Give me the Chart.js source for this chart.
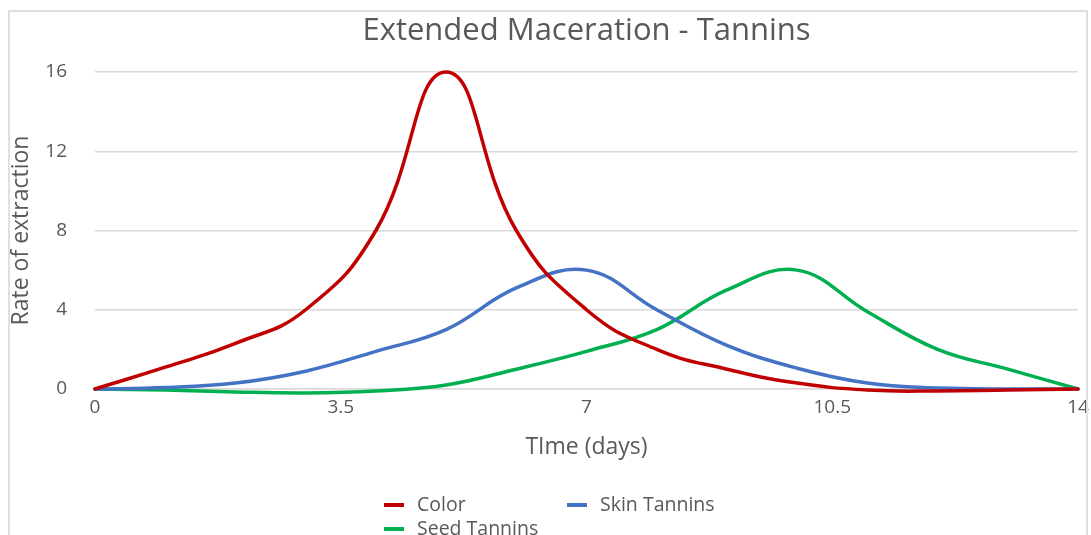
<!DOCTYPE html>
<html>
<head>
<meta charset="utf-8">
<script src="https://cdn.jsdelivr.net/npm/chart.js@4.4.1/dist/chart.umd.min.js"></script>
<style>
  html, body { margin: 0; padding: 0; background: #fff; overflow: hidden; }
  .wrap { position: relative; width: 1091px; height: 535px; }
  .frame { position: absolute; left: 8px; top: 10px; width: 1080px; height: 560px;
           border: 2px solid #e0e0e0; box-sizing: border-box; pointer-events: none; }
  .legend { position: absolute; left: 384px; top: 492px; width: 380px;
            font-family: "Open Sans", sans-serif; font-size: 19.5px; color: #595959; }
  .legend .item { position: absolute; white-space: nowrap; line-height: 24px; }
  .legend .mark { display: inline-block; width: 20px; height: 4px; vertical-align: middle;
                  margin-right: 13px; position: relative; top: -1px; }
</style>
</head>
<body>
<div class="wrap">
  <canvas id="chart"></canvas>
  <div class="frame"></div>
  <div class="legend" id="legend"></div>
</div>
<script>
// values (days 0..14)
const days = [0, 1, 2, 3, 4, 5, 6, 7, 8, 9, 10, 11, 12, 13, 14];
const colorValues = [0, 1.1, 2.3, 4, 8, 16, 8, 4, 2, 1, 0.3, -0.05, -0.1, -0.05, 0];
const skinValues = [0, 0.07, 0.3, 0.9, 1.9, 3, 5.1, 6, 4, 2.2, 1.05, 0.3, 0.05, 0, 0];
const seedValues = [0, -0.05, -0.15, -0.2, -0.1, 0.2, 1, 1.9, 3, 5, 6, 3.9, 2, 1, 0];
const seriesNames = ['Color', 'Skin Tannins', 'Seed Tannins'];
const xTicks = [0, 3.5, 7, 10.5, 14];
const yTicks = [0, 4, 8, 12, 16];

const FONT = '"Open Sans", sans-serif';
const textColor = '#595959';
const gridColor = '#d9d9d9';

function toPoints(values) {
  return values.map((v, i) => ({ x: days[i], y: v }));
}

function lineDataset(label, values, color, tension) {
  return {
    label: label,
    data: toPoints(values),
    borderColor: color,
    backgroundColor: color,
    borderWidth: 3.5,
    borderCapStyle: 'round',
    pointRadius: 0,
    tension: tension,
    clip: false,
    fill: false
  };
}

// Excel centres the title over the plot area, not the whole canvas
const plotTitle = {
  id: 'plotTitle',
  afterDraw(chart, args, opts) {
    const { ctx, chartArea } = chart;
    ctx.save();
    ctx.font = opts.size + 'px ' + FONT;
    ctx.fillStyle = textColor;
    ctx.textAlign = 'center';
    ctx.textBaseline = 'middle';
    ctx.fillText(opts.text, (chartArea.left + chartArea.right) / 2, opts.y);
    ctx.restore();
  }
};

const ctx = document.getElementById('chart').getContext('2d');
const chart = new Chart(ctx, {
  type: 'line',
  data: {
    datasets: [
      lineDataset(seriesNames[0], colorValues, '#c00000', 0.46),
      lineDataset(seriesNames[1], skinValues, '#4472c4', 0.4),
      lineDataset(seriesNames[2], seedValues, '#00b050', 0.4)
    ]
  },
  plugins: [plotTitle],
  options: {
    responsive: true,
    maintainAspectRatio: false,
    animation: false,
    layout: {
      padding: { left: 8, right: 13, top: 72, bottom: 66 }
    },
    plugins: {
      legend: { display: false },
      tooltip: { enabled: false },
      plotTitle: { text: 'Extended Maceration - Tannins', size: 31, y: 31 }
    },
    scales: {
      x: {
        type: 'linear',
        min: 0,
        max: 14,
        afterBuildTicks: function(scale) {
          scale.ticks = xTicks.map(v => ({ value: v }));
        },
        afterFit: function(scale) {
          scale.height = 80;
          scale.paddingRight = 0;
          scale.paddingLeft = 0;
        },
        grid: { display: false, drawTicks: false },
        border: { display: true, color: gridColor, width: 1.5 },
        ticks: {
          color: textColor,
          font: { family: FONT, size: 19 },
          padding: 7,
          maxRotation: 0,
          callback: v => String(v)
        },
        title: {
          display: true,
          text: 'TIme (days)',
          color: textColor,
          font: { family: FONT, size: 23, lineHeight: 1.2 },
          padding: { top: 0, bottom: 8 }
        }
      },
      y: {
        min: 0,
        max: 16,
        afterBuildTicks: function(scale) {
          scale.ticks = yTicks.map(v => ({ value: v }));
        },
        afterFit: function(scale) { scale.width = 87; },
        grid: { color: gridColor, lineWidth: 1.5, drawTicks: false },
        border: { display: false },
        ticks: {
          color: textColor,
          font: { family: FONT, size: 19 },
          padding: 28
        },
        title: {
          display: true,
          text: 'Rate of extraction',
          color: textColor,
          font: { family: FONT, size: 23, lineHeight: 1.2 },
          padding: { top: 0, bottom: 0 }
        }
      }
    }
  }
});

// legend laid out like the Excel one: two columns, third item wraps
const legendEl = document.getElementById('legend');
chart.data.datasets.forEach((ds, i) => {
  const item = document.createElement('div');
  item.className = 'item';
  item.style.left = (i % 2) * 183 + 'px';
  item.style.top = Math.floor(i / 2) * 24 + 'px';
  item.innerHTML = '<span class="mark" style="background:' + ds.borderColor + '"></span>' + ds.label;
  legendEl.appendChild(item);
});
</script>
</body>
</html>
